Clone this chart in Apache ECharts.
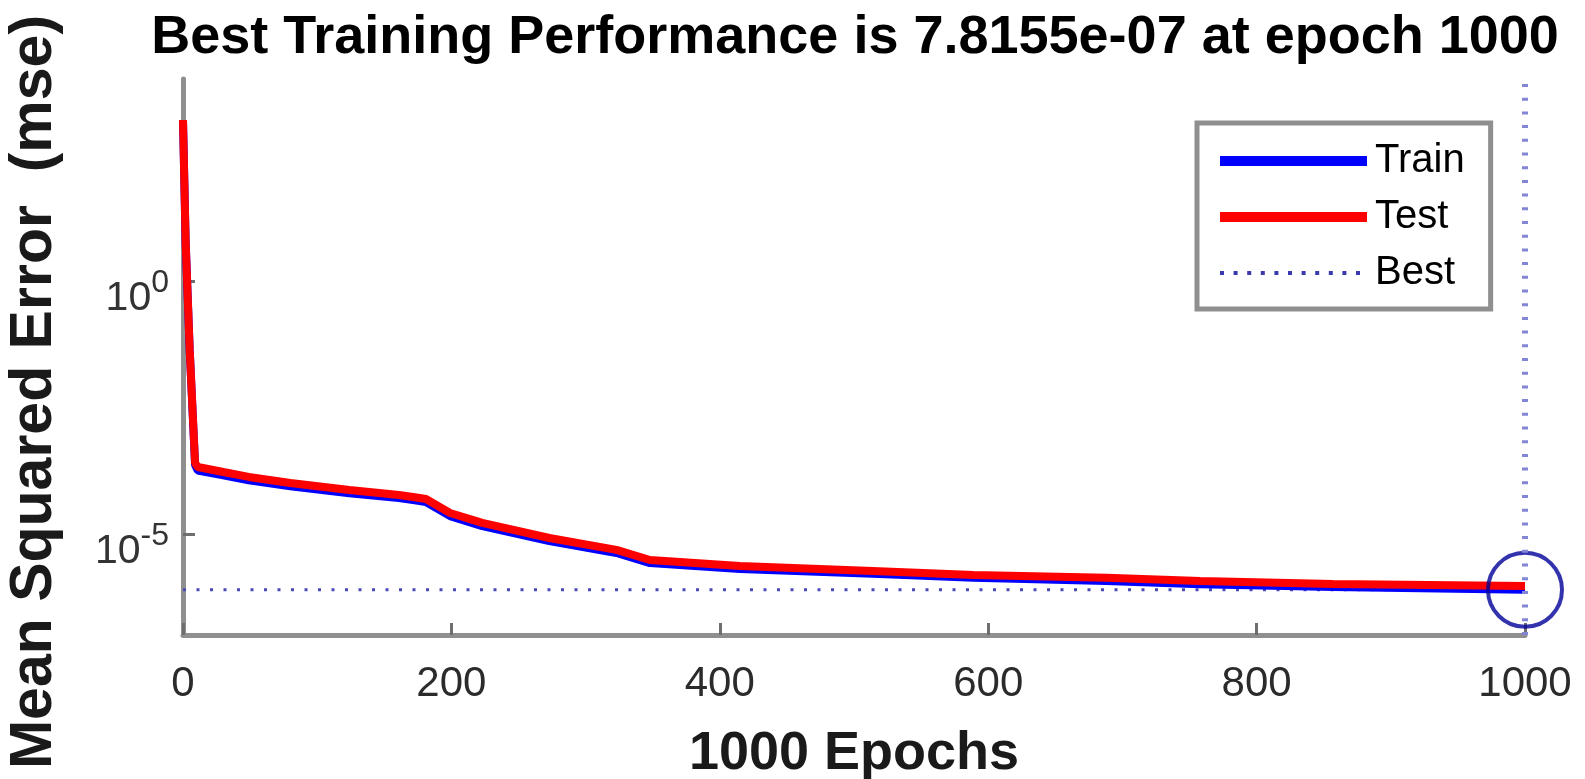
<!DOCTYPE html>
<html>
<head>
<meta charset="utf-8">
<script src="https://cdn.jsdelivr.net/npm/echarts@6/dist/echarts.min.js"></script>
<style>
html,body{margin:0;padding:0;background:#fff;}
#chart{width:1585px;height:779px;}
</style>
</head>
<body>
<div id="chart"></div>
<script>
// ---- data ----
const titleText = 'Best Training Performance is 7.8155e-07 at epoch 1000';
const xName = '1000 Epochs';
const yName = 'Mean Squared Error  (mse)';
const epochs = [0, 2, 5, 9, 11, 30, 49, 80, 124, 161, 174, 181, 199, 223, 273, 323, 348, 415, 514, 589, 688, 758, 857, 1000];
const trainMse = [1545, 5.7, 0.0436, 2.3e-4, 1.8e-4, 1.44e-4, 1.15e-4, 8.8e-5, 6.4e-5, 5.1e-5, 4.55e-5, 4.25e-5, 2.25e-5, 1.43e-5, 7.2e-6, 4.2e-6, 2.65e-6, 2.02e-6, 1.62e-6, 1.35e-6, 1.17e-6, 1.01e-6, 8.9e-7, 7.8155e-7];
const testMse = [1545, 5.7, 0.0436, 2.53e-4, 2.11e-4, 1.68e-4, 1.34e-4, 1.02e-4, 7.4e-5, 5.89e-5, 5.26e-5, 4.91e-5, 2.59e-5, 1.65e-5, 8.3e-6, 4.82e-6, 3.05e-6, 2.32e-6, 1.85e-6, 1.54e-6, 1.35e-6, 1.17e-6, 1.02e-6, 9.3e-7];
const bestEpoch = 1000;
const bestValue = 7.8155e-7;
const xTicks = [0, 200, 400, 600, 800, 1000];
const yTicks = [1e-5, 1];
const xRange = [0, 1000];
const yRange = [1e-7, 1e4];

// ---- chart ----
const FONT = '"Liberation Sans", Arial, Helvetica, sans-serif';
const chart = echarts.init(document.getElementById('chart'));
const pair = (xs, ys) => xs.map((x, i) => [x, ys[i]]);

const option = {
  animation: false,
  backgroundColor: '#ffffff',
  textStyle: { fontFamily: FONT },
  title: {
    text: titleText,
    left: 850,
    textAlign: 'center',
    top: 6,
    textStyle: { fontFamily: FONT, fontSize: 54, fontWeight: 'bold', color: '#000' }
  },
  grid: { left: 183, right: 60, top: 79, bottom: 144, containLabel: false, outerBoundsMode: 'none' },
  legend: {
    orient: 'vertical',
    left: 1197,
    top: 123,
    data: [
      { name: 'Train', lineStyle: { width: 10 } },
      { name: 'Test', lineStyle: { width: 10 } },
      { name: 'Best', lineStyle: { width: 4, color: '#3a3aad', type: [4, 9.6] }, itemStyle: { color: 'rgba(0,0,0,0)', borderWidth: 0, opacity: 0 } }
    ],
    itemWidth: 147,
    itemHeight: 10,
    itemGap: 16,
    padding: [18, 26, 16, 18],
    borderColor: '#8f8f8f',
    borderWidth: 5,
    borderRadius: 0,
    backgroundColor: '#ffffff',
    lineStyle: { width: 'inherit' },
    textStyle: { fontFamily: FONT, fontSize: 40, color: '#000', padding: [0, 0, 0, 3] }
  },
  xAxis: {
    type: 'value',
    min: xRange[0],
    max: xRange[1],
    interval: 200,
    name: xName,
    nameLocation: 'middle',
    nameGap: 92,
    nameTextStyle: { fontFamily: FONT, fontSize: 54, fontWeight: 'bold', color: '#1a1a1a' },
    axisLine: { show: true, lineStyle: { color: '#8f8f8f', width: 5 } },
    axisTick: { show: true, inside: true, length: 12, customValues: xTicks, lineStyle: { color: '#6e6e6e', width: 3 } },
    axisLabel: {
      fontFamily: FONT, fontSize: 42, color: '#2b2b2b', margin: 28, customValues: xTicks,
      formatter: function (v) { return String(v); }
    },
    splitLine: { show: false }
  },
  yAxis: {
    type: 'log',
    logBase: 10,
    min: yRange[0],
    max: yRange[1],
    axisLine: { show: true, lineStyle: { color: '#8f8f8f', width: 5 } },
    axisTick: { show: true, inside: true, length: 12, customValues: yTicks, lineStyle: { color: '#6e6e6e', width: 3 } },
    axisLabel: {
      margin: 14,
      padding: [24, 0, 0, 0],
      customValues: yTicks,
      formatter: function (v) {
        const e = Math.round(Math.log10(v));
        return '{b|10}{s|' + e + '}';
      },
      rich: {
        b: { fontFamily: FONT, fontSize: 41, color: '#333', lineHeight: 52, verticalAlign: 'bottom' },
        s: { fontFamily: FONT, fontSize: 32, color: '#333', lineHeight: 52, verticalAlign: 'top' }
      }
    },
    splitLine: { show: false },
    minorTick: { show: false }
  },
  graphic: [{
    type: 'text',
    x: 35,
    y: 392,
    rotation: Math.PI / 2,
    style: {
      text: yName,
      fontFamily: FONT,
      fontSize: 59,
      fontWeight: 'bold',
      fill: '#1a1a1a',
      align: 'center',
      verticalAlign: 'middle'
    }
  }],
  series: [
    {
      name: 'Best',
      type: 'line',
      data: [[xRange[0], bestValue], [xRange[1], bestValue]],
      symbol: 'none',
      silent: true,
      z: 1,
      lineStyle: { color: '#4b4bb8', width: 3, type: [3, 10.5] },
      itemStyle: { color: '#4b4bb8' },
      markLine: {
        silent: true,
        symbol: ['none', 'none'],
        label: { show: false },
        lineStyle: { color: '#8585d5', width: 6, type: [3, 10.7] },
        data: [{ xAxis: bestEpoch }]
      }
    },
    {
      name: 'Train',
      type: 'line',
      data: pair(epochs, trainMse),
      symbol: 'none',
      z: 2,
      lineStyle: { color: '#0000ff', width: 8 },
      itemStyle: { color: '#0000ff' }
    },
    {
      name: 'Test',
      type: 'line',
      data: pair(epochs, testMse),
      symbol: 'none',
      z: 3,
      lineStyle: { color: '#ff0000', width: 8 },
      itemStyle: { color: '#ff0000' }
    },
    {
      name: 'BestPoint',
      type: 'scatter',
      data: [[bestEpoch, bestValue]],
      symbol: 'circle',
      symbolSize: 74,
      silent: true,
      z: 4,
      itemStyle: { color: 'rgba(0,0,0,0)', borderColor: '#000099', borderWidth: 4 }
    }
  ]
};
chart.setOption(option);
</script>
</body>
</html>
